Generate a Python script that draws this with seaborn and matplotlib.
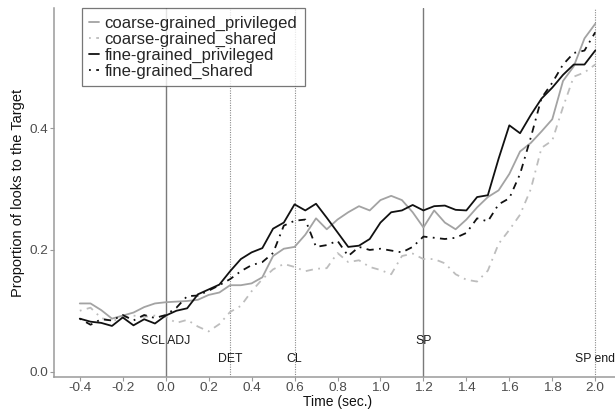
import numpy as np
import pandas as pd
import matplotlib
matplotlib.use("Agg")
import matplotlib.pyplot as plt
import seaborn as sns

time = [-0.40, -0.35, -0.30, -0.25, -0.20, -0.15, -0.10, -0.05, 0.00, 0.05,
        0.10, 0.15, 0.20, 0.25, 0.30, 0.35, 0.40, 0.45, 0.50, 0.55,
        0.60, 0.65, 0.70, 0.75, 0.80, 0.85, 0.90, 0.95, 1.00, 1.05,
        1.10, 1.15, 1.20, 1.25, 1.30, 1.35, 1.40, 1.45, 1.50, 1.55,
        1.60, 1.65, 1.70, 1.75, 1.80, 1.85, 1.90, 1.95, 2.00]

coarse_privileged = [0.112, 0.112, 0.101, 0.087, 0.092, 0.097, 0.106, 0.112, 0.114, 0.115,
                     0.116, 0.118, 0.126, 0.130, 0.142, 0.142, 0.145, 0.155, 0.190, 0.202,
                     0.205, 0.225, 0.252, 0.234, 0.250, 0.262, 0.272, 0.265, 0.282, 0.289,
                     0.282, 0.262, 0.237, 0.265, 0.245, 0.234, 0.250, 0.270, 0.287, 0.298,
                     0.325, 0.362, 0.376, 0.395, 0.415, 0.478, 0.502, 0.548, 0.572]

coarse_shared = [0.100, 0.105, 0.088, 0.083, 0.088, 0.092, 0.090, 0.092, 0.090, 0.080,
                 0.085, 0.074, 0.066, 0.078, 0.098, 0.108, 0.132, 0.152, 0.168, 0.177,
                 0.172, 0.165, 0.169, 0.170, 0.195, 0.180, 0.183, 0.172, 0.167, 0.160,
                 0.190, 0.194, 0.185, 0.185, 0.178, 0.160, 0.151, 0.148, 0.166, 0.210,
                 0.233, 0.258, 0.300, 0.368, 0.380, 0.435, 0.485, 0.492, 0.505]

fine_privileged = [0.087, 0.082, 0.080, 0.075, 0.089, 0.076, 0.086, 0.079, 0.092, 0.100,
                   0.104, 0.127, 0.135, 0.143, 0.165, 0.185, 0.196, 0.203, 0.235, 0.245,
                   0.275, 0.265, 0.276, 0.253, 0.229, 0.205, 0.207, 0.218, 0.245, 0.262,
                   0.265, 0.274, 0.265, 0.272, 0.273, 0.266, 0.265, 0.287, 0.290, 0.350,
                   0.405, 0.392, 0.422, 0.449, 0.467, 0.488, 0.505, 0.505, 0.528]

fine_shared = [0.087, 0.077, 0.086, 0.084, 0.093, 0.084, 0.093, 0.088, 0.093, 0.105,
               0.124, 0.125, 0.133, 0.142, 0.152, 0.165, 0.175, 0.180, 0.195, 0.240,
               0.248, 0.250, 0.205, 0.208, 0.215, 0.190, 0.205, 0.200, 0.202, 0.199,
               0.196, 0.205, 0.222, 0.220, 0.218, 0.220, 0.228, 0.252, 0.247, 0.275,
               0.285, 0.325, 0.385, 0.450, 0.475, 0.505, 0.524, 0.528, 0.558]

conditions = ["coarse-grained_privileged", "coarse-grained_shared",
              "fine-grained_privileged", "fine-grained_shared"]

event_times = [0.0, 0.3, 0.6, 1.2, 2.0]
event_labels = ["SCL ADJ", "DET", "CL", "SP", "SP end"]
event_label_y = [0.05, 0.02, 0.02, 0.05, 0.02]
event_solid = [True, False, False, True, False]

x_ticks = [-0.4, -0.2, 0.0, 0.2, 0.4, 0.6, 0.8, 1.0, 1.2, 1.4, 1.6, 1.8, 2.0]
y_ticks = [0.0, 0.2, 0.4]

series = [coarse_privileged, coarse_shared, fine_privileged, fine_shared]
df = pd.concat([pd.DataFrame({"time": time, "prop": s, "condition": c})
                for s, c in zip(series, conditions)], ignore_index=True)

sns.set_theme(style="white")
plt.rcParams["font.family"] = ["Liberation Sans", "DejaVu Sans"]

fig = plt.figure(figsize=(6.15, 4.09), dpi=100)
ax = fig.add_axes([54 / 615, 32 / 409, (621 - 54) / 615, (377 - 8) / 409])

axis_col = "#9a9a9a"
for t, solid in zip(event_times, event_solid):
    if solid:
        ax.axvline(t, color="#7a7a7a", lw=1.0, zorder=1)
    else:
        ax.axvline(t, color="#8a8a8a", lw=0.8, ls=(0, (1, 1.2)), zorder=1)
for t, lab, yy in zip(event_times, event_labels, event_label_y):
    ax.text(t, yy, lab, ha="center", va="center", fontsize=8.8, color="#1a1a1a", zorder=3)

palette = {conditions[0]: "#a3a3a3", conditions[1]: "#bdbdbd",
           conditions[2]: "#111111", conditions[3]: "#111111"}
dashes = {conditions[0]: "", conditions[1]: (1, 3, 4, 3),
          conditions[2]: "", conditions[3]: (1, 3, 4, 3)}
sns.lineplot(data=df, x="time", y="prop", hue="condition", style="condition",
             hue_order=conditions, style_order=conditions, palette=palette,
             dashes=dashes, linewidth=1.3, ax=ax, zorder=2, estimator=None)

ax.set_xlim(-0.52, 2.12)
ax.set_ylim(-0.009, 0.598)
ax.set_xticks(x_ticks)
ax.set_xticklabels([f"{v:.1f}" for v in x_ticks])
ax.set_yticks(y_ticks)
ax.set_yticklabels([f"{v:.1f}" for v in y_ticks])
ax.tick_params(axis="both", length=3, width=0.8, color=axis_col,
               labelsize=9.7, labelcolor="#4d4d4d", pad=1, bottom=True, left=True)
ax.tick_params(axis="x", pad=0.5)
for side in ["top", "right"]:
    ax.spines[side].set_visible(False)
for side in ["left", "bottom"]:
    ax.spines[side].set_color(axis_col)
    ax.spines[side].set_linewidth(1.1)
ax.set_xlabel("Time (sec.)", fontsize=10, color="#111111", labelpad=0.5)
ax.set_ylabel("Proportion of looks to the Target", fontsize=10.5, color="#111111", labelpad=3)

handles, labels = ax.get_legend_handles_labels()
leg = ax.legend(handles, labels, loc="upper left", bbox_to_anchor=(0.049, 1.0),
                borderaxespad=0, frameon=True, fontsize=12, handlelength=0.6,
                handletextpad=0.3, labelspacing=0.05, borderpad=0.45, fancybox=False)
leg.get_frame().set_edgecolor("#555555")
leg.get_frame().set_linewidth(0.9)
leg.get_frame().set_facecolor("white")
leg.set_zorder(5)

fig.savefig("out.png", dpi=100)
